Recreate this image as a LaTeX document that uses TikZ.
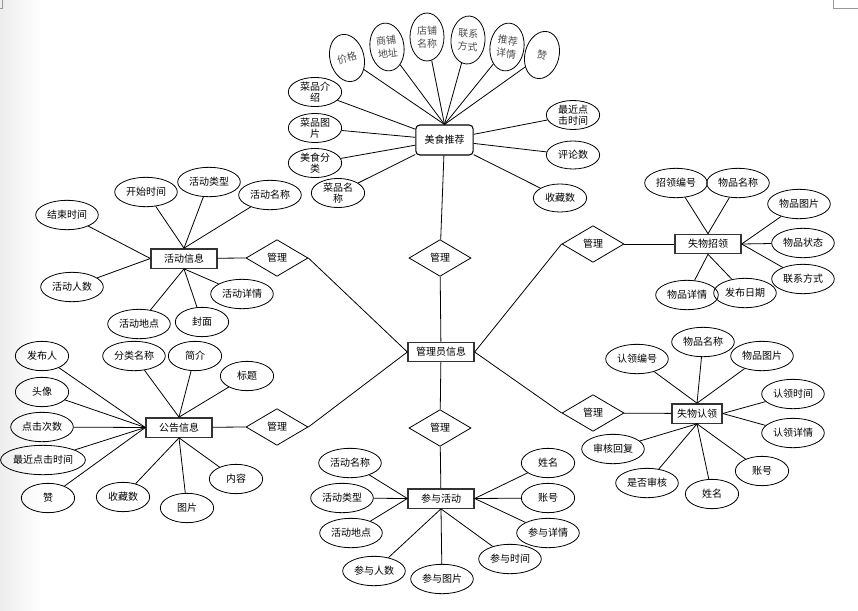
\documentclass[tikz,border=0pt]{standalone}
\usepackage{fontspec}
\setmainfont{Noto Sans CJK SC}
\usetikzlibrary{shapes.geometric}

\begin{document}
\begin{tikzpicture}[x=0.75pt,y=-0.75pt,line width=0.6pt,
	every node/.style={font=\fontsize{7.5}{8.5}\selectfont,inner sep=0pt},
	ent/.style={draw=black!80,line width=1pt,minimum width=49.5pt,minimum height=14.5pt,fill=white},
	attr/.style={draw,ellipse,minimum width=47pt,minimum height=22pt,align=center},
	tattr/.style={draw,ellipse,minimum width=25.5pt,minimum height=36pt,align=center,text=black!70,font=\fontsize{7.5}{10}\selectfont},
	rel/.style={draw,diamond,minimum width=46.5pt,minimum height=27.5pt}]
\useasboundingbox (0,0) rectangle (858,611);
\shade[left color=black!7,right color=white] (0,0) rectangle (42,611);
\draw[black!40,line width=0.5pt] (2,0) -- (2,8) -- (0,8);
\draw[black!40,line width=0.5pt] (833,0) -- (833,8) -- (858,8);
% centre
\node[ent] (gly) at (441,352) {管理员信息};
% food recommendation
\node[draw,rounded corners=3pt,minimum width=43pt,minimum height=22.5pt,line width=0.8pt] (ms) at (444.5,140) {美食推荐};
\node[rel] (r1) at (440,258) {管理};
\draw (ms) -- (r1) -- (gly);
\foreach \x/\y/\r/\t [count=\i] in {347/58/15/{价格}, 387/47/8/{商铺\\地址}, 427/37/0/{店铺\\名称}, 468/40/-4/{联系\\方式}, 507/47/-8/{推荐\\详情}, 542/55/-15/{赞}}
	{\node[tattr,rotate=\r] (mt\i) at (\x,\y) {\t}; \draw (mt\i) -- (ms.north);}
\foreach \x/\y/\t [count=\i] in {315/92/{菜品介\\绍}, 315/128/{菜品图\\片}, 315/163/{美食分\\类}, 338/193/{菜品名\\称}, 573/115/{最近点\\击时间}, 573/155/{评论数}, 560/198/{收藏数}}
	{\node[attr,minimum width=40pt,minimum height=21pt] (ma\i) at (\x,\y) {\t}; \draw (ma\i) -- (ms);}
% activity info
\node[ent] (hd) at (184,258.5) {活动信息};
\node[rel] (r2) at (277,258) {管理};
\draw (hd) -- (r2.west); \draw (r2.east) -- (gly.west);
\foreach \x/\y/\w/\t/\a [count=\i] in {67/215/47/结束时间/west, 146/192/47/开始时间/north, 209/182/47/活动类型/north, 270/195/47/活动名称/north, 72/287/47/活动人数/west, 139/324/47/活动地点/south, 202/322/40/封面/south, 242/294/47/活动详情/south}
	{\node[attr,minimum width=\w pt] (hd\i) at (\x,\y) {\t}; \draw (hd\i) -- (hd.\a);}
% lost item posting
\node[ent] (zl) at (708,244) {失物招领};
\node[rel] (r3) at (593,244) {管理};
\draw (gly.east) -- (r3.west); \draw (r3) -- (zl);
\foreach \x/\y/\w/\t/\a [count=\i] in {676/183/47/招领编号/north, 738/183/47/物品名称/north, 799/204/47/物品图片/east, 803/243/47/物品状态/east, 803/279/47/联系方式/east, 687/295/47/物品详情/south, 745/293/47/发布日期/south}
	{\node[attr,minimum width=\w pt] (zl\i) at (\x,\y) {\t}; \draw (zl\i) -- (zl.\a);}
% announcement
\node[ent] (gg) at (179,427.5) {公告信息};
\node[rel] (r4) at (277,427) {管理};
\draw (gg) -- (r4.west); \draw (r4.east) -- (gly.west);
\foreach \x/\y/\w/\t/\a [count=\i] in {42/356/40/发布人/west, 42/392/40/头像/west, 42/427/47/点击次数/west, 43/460/61.5/最近点击时间/west, 48/498/40/赞/west, 134/356/47/分类名称/north, 195/356/40/简介/north, 247/376/40/标题/north, 236/479/40/内容/south, 187/508/40/图片/south, 123/497/40/收藏数/south}
	{\node[attr,minimum width=\w pt] (gg\i) at (\x,\y) {\t}; \draw (gg\i) -- (gg.\a);}
% activity participation
\node[ent] (cy) at (441,498.5) {参与活动};
\node[rel] (r5) at (440,428) {管理};
\draw (gly) -- (r5) -- (cy);
\foreach \x/\y/\w/\t/\a [count=\i] in {350/463/47/活动名称/west, 342/498/47/活动类型/west, 351/533/47/活动地点/west, 374/571/47/参与人数/south, 442/579/47/参与图片/south, 510/559/47/参与时间/south, 548/533/47/参与详情/east, 548/498/40/账号/east, 548/463/40/姓名/east}
	{\node[attr,minimum width=\w pt] (cy\i) at (\x,\y) {\t}; \draw (cy\i) -- (cy.\a);}
% lost item claim
\node[ent,minimum width=37.5pt] (rl) at (697,413.5) {失物认领};
\node[rel] (r6) at (593,413) {管理};
\draw (gly.east) -- (r6.west); \draw (r6) -- (rl);
\foreach \x/\y/\w/\t/\a [count=\i] in {637/359/47/认领编号/north, 703/342/47/物品名称/north, 762/356/47/物品图片/north, 793/394/47/认领时间/east, 793/433/47/认领详情/east, 762/471/40/账号/south, 712/494/40/姓名/south, 647/483/47/是否审核/south, 613/449/47/审核回复/south}
	{\node[attr,minimum width=\w pt] (rl\i) at (\x,\y) {\t}; \draw (rl\i) -- (rl.\a);}
\end{tikzpicture}
\end{document}
